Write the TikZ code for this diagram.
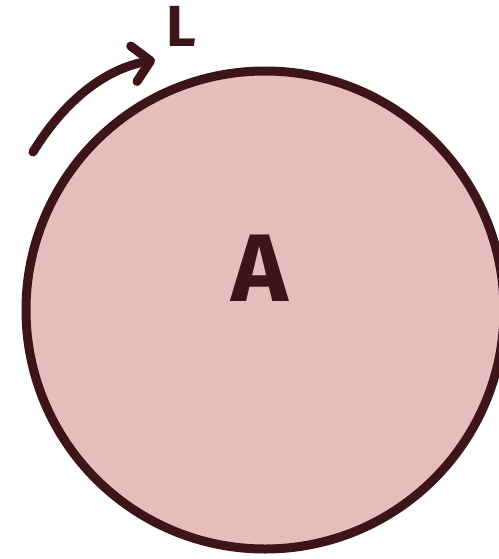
\documentclass[tikz,border=0pt]{standalone}
\usepackage{fontspec}
\setmainfont{Fira Sans}
\usetikzlibrary{arrows.meta}

\definecolor{inkdark}{HTML}{3D1418}
\definecolor{rosefill}{HTML}{E6BCBD}

\tikzset{
  disc/.style={circle, draw=inkdark, fill=rosefill, line width=9pt, minimum size=478pt, inner sep=0pt},
  letter/.style={text=inkdark, font=\fontsize{#1}{#1}\selectfont\bfseries},
}

\begin{document}
\begin{tikzpicture}[x=1pt, y=-1pt, line width=9pt, line cap=round]
  \useasboundingbox (0,0) rectangle (498,559);
  \node (disc) [disc] at (265,310) {};
  \node (lbla) [letter=96] at (260,268) {A};
  \node (lbll) [letter=58] at (181,26) {L};

  \coordinate (arcstart) at (33,152);
  \coordinate (arcend) at (155,60);
  \draw[inkdark, -{Straight Barb[length=17pt, width=36pt, round]}]
    (arcstart) .. controls (68,95) and (110,68) .. (arcend);
\end{tikzpicture}
\end{document}
